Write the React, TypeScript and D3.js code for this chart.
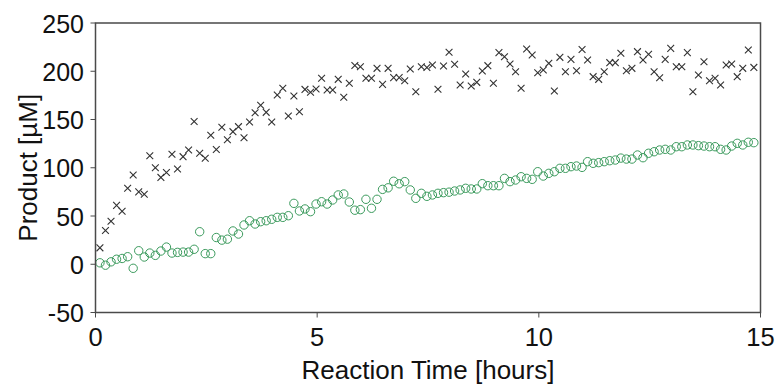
import React from "react";
import * as d3 from "d3";

// Sampling: first sample at 0.1 h, every 0.125 h (7.5 min)
const T0 = 0.1;
const DT = 0.125;

// Series 1 (black crosses) — product [µM]
const crossValues = [
  17, 35, 44.5, 61, 55, 78.7, 92.5, 75, 72.5, 112.5, 100, 90, 95, 114, 98.7, 111.5, 118.4, 148, 115, 109.8, 133.6, 119, 142, 129,
  137.4, 142.6, 131, 147.4, 157, 164.7, 157.4, 147.4, 175.4, 182.3, 153.6, 174.4, 158, 181.2, 178.2, 181.6, 192.7, 180.6, 180.6, 191.6, 173, 187.5, 206,
  204.7, 192.7, 192.7, 203, 186.4, 203, 193.4, 193.4, 190.2, 202.3, 178.8, 204.7, 203.8, 206.5, 181.3, 205.5, 219.6, 207.2, 185.8, 197.2, 184.7, 188.5, 200.3, 205.8,
  187.5, 219.3, 215, 207.5, 199.5, 182.3, 223, 216.8, 198.5, 201.3, 208.2, 179.5, 214.4, 199.5, 212.3, 200.6, 222.6, 211.7, 194.4, 191.6, 199.5, 208.9, 208.9, 218.6,
  200.6, 203, 220.3, 211.7, 217.6, 199.5, 193.3, 212.3, 223.7, 204.7, 204.7, 219.3, 178.8, 196.1, 209.9, 190.2, 192.7, 185.8, 206.5, 207.5, 194.4, 203, 222, 204,
];

// Series 2 (green circles) — product [µM]
const circleValues = [
  1.5, -1, 2.5, 5.2, 6, 7.8, -4.2, 14, 7.5, 11.6, 9.2, 13.7, 17.8, 11.6, 12.3, 12.6, 12.6, 15.5, 33.7, 11, 11, 27.7, 25, 26, 34.5,
  31.3, 40.7, 45.1, 41.7, 44.1, 45.1, 46.6, 48.6, 48.6, 50.3, 63.1, 55.2, 57.3, 54.5, 62.4, 64.8, 62.4, 66.6, 71.8, 72.8, 64.5, 56,
  56.6, 67.3, 58, 67.3, 77.6, 79.2, 86, 83.4, 85.6, 77, 68.3, 73.5, 70.4, 71.8, 73.5, 74.2, 74.7, 75.9, 77, 78.7, 78, 78, 83.5, 81.4,
  81.4, 81.4, 89, 85.6, 87.3, 90.7, 89, 88, 95.9, 91.4, 94.2, 95.9, 99.4, 99.4, 101.1, 101.8, 100.4, 106.3, 104.6, 105.3, 106.3, 107.3, 108, 110,
  109, 109, 113.2, 110.4, 115, 116.6, 118.4, 119.1, 118.4, 121.8, 121.8, 123.6, 123.6, 122.9, 122.5, 121.8, 121.8, 119.1, 118.4, 122.5, 125.3, 123.6, 126.4, 126,
];

const xTicks = [0, 5, 10, 15];
const yTicks = [-50, 0, 50, 100, 150, 200, 250];
const xTitle = "Reaction Time [hours]";
const yTitle = "Product [µM]";

const W = 777;
const H = 385;
const M = { left: 95.5, right: 760.5, top: 23, bottom: 312.5 };
const FONT = "'Liberation Sans', Arial, sans-serif";
const AXIS = "#4a4a4a";

export default function App() {
  const x = d3.scaleLinear().domain([0, 15]).range([M.left, M.right]);
  const y = d3.scaleLinear().domain([-50, 250]).range([M.bottom, M.top]);
  const tOf = (i: number) => T0 + i * DT;
  const s = 3.4;
  const crossPath = `M${-s},${-s}L${s},${s}M${-s},${s}L${s},${-s}`;

  return (
    <svg
      width={W}
      height={H}
      style={{ position: "absolute", left: 0, top: 0, background: "#fff" }}
      fontFamily={FONT}
    >
      <rect x={0} y={0} width={W} height={H} fill="#fff" />
      {/* markers */}
      <g>
        {circleValues.map((v, i) => (
          <circle
            key={"c" + i}
            cx={x(tOf(i))}
            cy={y(v)}
            r={4.2}
            fill="none"
            stroke="#3a9a5c"
            strokeWidth={1}
          />
        ))}
      </g>
      <g>
        {crossValues.map((v, i) => (
          <path
            key={"x" + i}
            d={crossPath}
            transform={`translate(${x(tOf(i))},${y(v)})`}
            fill="none"
            stroke="#333"
            strokeWidth={1.1}
          />
        ))}
      </g>
      {/* frame */}
      <rect
        x={M.left}
        y={M.top}
        width={M.right - M.left}
        height={M.bottom - M.top}
        fill="none"
        stroke={AXIS}
        strokeWidth={1.5}
      />
      {/* y ticks */}
      {yTicks.map((t) => (
        <g key={"yt" + t}>
          <line x1={M.left - 5} x2={M.left} y1={y(t)} y2={y(t)} stroke={AXIS} strokeWidth={1} />
          <text
            x={84}
            y={y(t)}
            dy="0.38em"
            textAnchor="end"
            fontSize={25}
            fill="#111"
          >
            {t}
          </text>
        </g>
      ))}
      {/* x ticks */}
      {xTicks.map((t) => (
        <g key={"xt" + t}>
          <line x1={x(t)} x2={x(t)} y1={M.bottom} y2={M.bottom + 5} stroke={AXIS} strokeWidth={1} />
          <text x={x(t)} y={345.5} textAnchor="middle" fontSize={25.5} fill="#111">
            {t}
          </text>
        </g>
      ))}
      <text x={(M.left + M.right) / 2} y={378.5} textAnchor="middle" fontSize={26} fill="#111">
        {xTitle}
      </text>
      <text
        transform={`translate(37,${(M.top + M.bottom) / 2}) rotate(-90)`}
        textAnchor="middle"
        fontSize={26}
        fill="#111"
      >
        {yTitle}
      </text>
    </svg>
  );
}
